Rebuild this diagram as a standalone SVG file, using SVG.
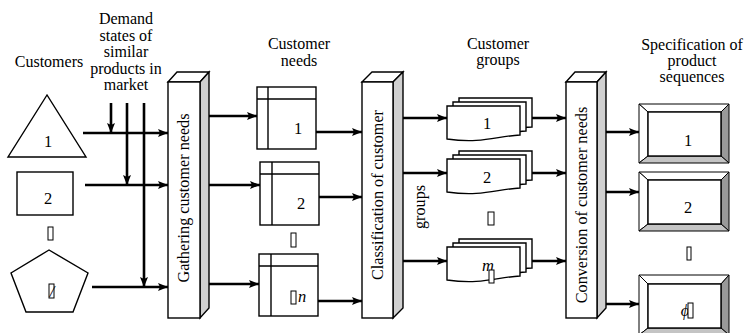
<svg xmlns="http://www.w3.org/2000/svg" width="750" height="333" viewBox="0 0 750 333">
<style>
text{font-family:"Liberation Serif","Times New Roman",serif;font-size:16.5px;fill:#000;text-anchor:middle}
.t{font-size:16px}
.rot{font-size:16.2px}
.s{fill:#fff;stroke:#000;stroke-width:1.4}
.side{fill:#d0d0d0;stroke:#000;stroke-width:1.4}
.tofu{fill:#fff;stroke:#000;stroke-width:1}
.c line{stroke:#000;stroke-width:2.6;marker-end:url(#ah)}
.bl{fill:#fff;stroke:#000;stroke-width:1}
.bd{fill:#999;stroke:#000;stroke-width:1}
.bg{fill:#c4c4c4;stroke:#000;stroke-width:1}
.in{stroke:#000;stroke-width:1.4}
</style>
<defs>
<marker id="ah" markerUnits="userSpaceOnUse" markerWidth="12" markerHeight="10" refX="10" refY="4" orient="auto">
<path d="M0,0 L10,4 L0,8 L2,4 Z" fill="#000"/>
</marker>
</defs>

<g id="titles">
<text class="t" x="49" y="67">Customers</text>
<text class="t" x="126" y="24">Demand</text>
<text class="t" x="126" y="41">states of</text>
<text class="t" x="126" y="57">similar</text>
<text class="t" x="126" y="74">products in</text>
<text class="t" x="126" y="90">market</text>
<text class="t" x="299" y="49">Customer</text>
<text class="t" x="299" y="66">needs</text>
<text class="t" x="498" y="49">Customer</text>
<text class="t" x="498" y="65">groups</text>
<text class="t" x="692" y="50">Specification of</text>
<text class="t" x="692" y="66">product</text>
<text class="t" x="692" y="82">sequences</text>
</g>

<g id="connectors" class="c">
<line x1="83" y1="133" x2="168" y2="133"/>
<line x1="85" y1="185" x2="168" y2="185"/>
<line x1="92" y1="287" x2="168" y2="287"/>
<line x1="111" y1="103" x2="111" y2="133"/>
<line x1="127" y1="103" x2="127" y2="185"/>
<line x1="144" y1="103" x2="144" y2="287"/>
<line x1="209" y1="116" x2="257" y2="116"/>
<line x1="209" y1="185" x2="260" y2="185"/>
<line x1="209" y1="284" x2="259" y2="284"/>
<line x1="316" y1="132" x2="362" y2="132"/>
<line x1="319" y1="197" x2="362" y2="197"/>
<line x1="318" y1="301" x2="362" y2="301"/>
<line x1="403" y1="118" x2="447" y2="118"/>
<line x1="403" y1="173" x2="447" y2="173"/>
<line x1="403" y1="261" x2="447" y2="261"/>
<line x1="532" y1="118" x2="566" y2="118"/>
<line x1="532" y1="173" x2="566" y2="173"/>
<line x1="532" y1="261" x2="566" y2="261"/>
<line x1="606" y1="132" x2="639" y2="132"/>
<line x1="606" y1="192" x2="639" y2="192"/>
<line x1="606" y1="304" x2="639" y2="304"/>
</g>

<g id="customer1">
<polygon class="s" points="47,95 8,157 86,157"/>
<text x="48" y="147">1</text>
</g>
<g id="customer2">
<rect class="s" x="17" y="172" width="56" height="43"/>
<text x="48" y="204">2</text>
</g>
<g id="customer-ellipsis"><rect class="tofu" x="48" y="227" width="5" height="13"/></g>
<g id="customer-n">
<polygon class="s" points="49,250 11,273 26,312 73,312 88,273"/>
<rect class="tofu" x="49" y="284" width="5" height="14"/>
<text x="52" y="297" font-size="14" font-style="italic">/</text>
</g>

<g id="gathering">
<polygon class="s" points="168,82 177,72 209,72 200,82"/>
<polygon class="side" points="200,82 209,72 209,308 200,318"/>
<rect class="s" x="168" y="82" width="32" height="236"/>
<text class="rot" transform="translate(189,198) rotate(-90)">Gathering customer needs</text>
</g>

<g id="need1">
<rect class="s" x="257" y="87" width="59" height="62"/>
<line class="in" x1="257" y1="99" x2="316" y2="99"/>
<line class="in" x1="268" y1="87" x2="268" y2="149"/>
<text x="298" y="134">1</text>
</g>
<g id="need2">
<rect class="s" x="260" y="162" width="59" height="63"/>
<line class="in" x1="260" y1="174" x2="319" y2="174"/>
<line class="in" x1="272" y1="162" x2="272" y2="225"/>
<text x="301" y="209">2</text>
</g>
<g id="need-ellipsis"><rect class="tofu" x="291" y="233" width="5" height="14"/></g>
<g id="need-n">
<rect class="s" x="259" y="254" width="59" height="62"/>
<line class="in" x1="259" y1="266" x2="318" y2="266"/>
<line class="in" x1="271" y1="254" x2="271" y2="316"/>
<rect class="tofu" x="291" y="291" width="5" height="13"/>
<text x="302" y="302" font-style="italic">n</text>
</g>

<g id="classification">
<polygon class="s" points="362,82 372,72 403,72 393,82"/>
<polygon class="side" points="393,82 403,72 403,308 393,318"/>
<rect class="s" x="362" y="82" width="31" height="236"/>
<text class="rot" transform="translate(383,195) rotate(-90)">Classification of customer</text>
<text class="rot" transform="translate(425,207) rotate(-90)">groups</text>
</g>

<g id="group1">
<path class="s" d="M459,98 H532 V127 C509,128 494,136 459,131 Z"/>
<path class="s" d="M453,102 H526 V131 C503,132 488,140 453,135 Z"/>
<path class="s" d="M447,106 H520 V135 C497,136 482,144 447,139 Z"/>
<text x="487" y="129">1</text>
</g>
<g id="group2">
<path class="s" d="M459,151 H532 V180 C509,181 494,189 459,184 Z"/>
<path class="s" d="M453,155 H526 V184 C503,185 488,193 453,188 Z"/>
<path class="s" d="M447,159 H520 V188 C497,189 482,197 447,192 Z"/>
<text x="487" y="183">2</text>
</g>
<g id="group-ellipsis"><rect class="tofu" x="488" y="212" width="6" height="13"/></g>
<g id="group-m">
<path class="s" d="M459,239 H532 V268 C509,269 494,277 459,272 Z"/>
<path class="s" d="M453,243 H526 V272 C503,273 488,281 453,276 Z"/>
<path class="s" d="M447,247 H520 V276 C497,277 482,285 447,280 Z"/>
<text x="488" y="271" font-style="italic">m</text>
<rect class="tofu" x="489" y="270" width="5" height="13"/>
</g>

<g id="conversion">
<polygon class="s" points="566,82 575,72 606,72 597,82"/>
<polygon class="side" points="597,82 606,72 606,308 597,318"/>
<rect class="s" x="566" y="82" width="31" height="236"/>
<text class="rot" transform="translate(587,205) rotate(-90)">Conversion of customer needs</text>
</g>

<g id="spec1">
<polygon class="bl" points="639,104 729,104 721,112 648,112"/>
<polygon class="bl" points="639,104 648,112 648,156 639,163"/>
<polygon class="bd" points="729,104 729,163 721,156 721,112"/>
<polygon class="bg" points="639,163 648,156 721,156 729,163"/>
<rect class="s" x="648" y="112" width="73" height="44"/>
<text x="688" y="146">1</text>
</g>
<g id="spec2">
<polygon class="bl" points="639,172 729,172 721,180 648,180"/>
<polygon class="bl" points="639,172 648,180 648,224 639,231"/>
<polygon class="bd" points="729,172 729,231 721,224 721,180"/>
<polygon class="bg" points="639,231 648,224 721,224 729,231"/>
<rect class="s" x="648" y="180" width="73" height="44"/>
<text x="688" y="213">2</text>
</g>
<g id="spec-ellipsis"><rect class="tofu" x="687" y="247" width="4" height="13"/></g>
<g id="spec-q">
<polygon class="bl" points="639,275 729,275 721,284 648,284"/>
<polygon class="bl" points="639,275 648,284 648,328 639,335"/>
<polygon class="bd" points="729,275 729,335 721,328 721,284"/>
<polygon class="bg" points="639,335 648,328 721,328 729,335"/>
<rect class="s" x="648" y="284" width="73" height="44"/>
<text x="685" y="316" font-style="italic">ϕ</text>
<rect class="tofu" x="688" y="303" width="5" height="15"/>
</g>
</svg>
